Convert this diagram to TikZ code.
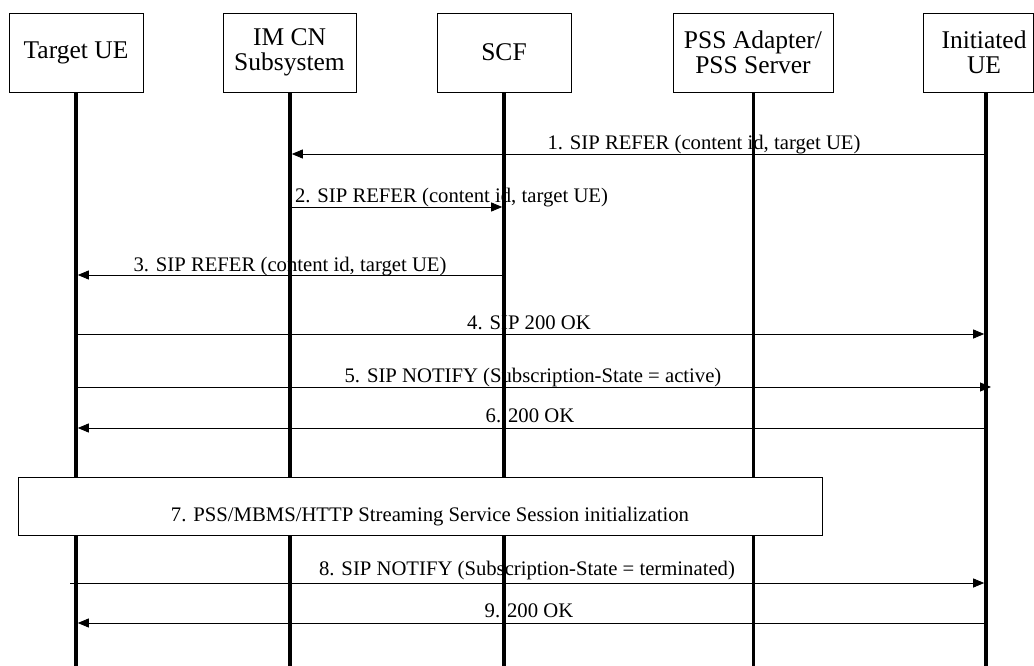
\documentclass[tikz,border=0pt]{standalone}
\usepackage{fontspec}
\setmainfont{Liberation Serif}
\usetikzlibrary{arrows.meta}
\begin{document}
\begin{tikzpicture}[x=1pt,y=-1pt,
  head/.style={draw, line width=0.9pt, fill=white, inner sep=0pt, align=center,
    minimum height=79pt, font=\fontsize{25.5}{25}\selectfont},
  headtxt/.style={inner sep=0pt, align=center, font=\fontsize{25.5}{25}\selectfont},
  life/.style={line width=3.6pt},
  msg/.style={line width=0.9pt, shorten >=1.8pt, -{Triangle[length=11pt,width=9pt]}},
  msgfree/.style={line width=0.9pt, -{Triangle[length=11pt,width=9pt]}},
  lbl/.style={anchor=base, inner sep=0pt, font=\fontsize{20.7}{24}\selectfont}]
\useasboundingbox (0,0) rectangle (1034,666);

% lifeline tops
\coordinate (L1) at (76,92);
\coordinate (L2) at (290,92);
\coordinate (L3) at (504,92);
\coordinate (L4) at (753.5,92);
\coordinate (L5) at (986,92);
\coordinate (B) at (0,666);
\coordinate (s8) at (70,583);
\coordinate (e5) at (991,387);

% messages
\draw[msg] (L5 |- 0,154) -- (L2 |- 0,154);
\node[lbl] (t1) at (704,150) {1. SIP REFER (content id, target UE)};

\draw[msg] (L2 |- 0,207) -- (L3 |- 0,207);
\node[lbl] (t2) at (451.5,202) {2. SIP REFER (content id, target UE)};

\draw[msg] (L3 |- 0,275) -- (L1 |- 0,275);
\node[lbl] (t3) at (290,271) {3. SIP REFER (content id, target UE)};

\draw[msg] (L1 |- 0,334) -- (L5 |- 0,334);
\node[lbl] (t4) at (529,329) {4. SIP 200 OK};

\draw[msgfree] (L1 |- e5) -- (e5);
\node[lbl] (t5) at (533,382) {5. SIP NOTIFY (Subscription-State = active)};

\draw[msg] (L5 |- 0,428) -- (L1 |- 0,428);
\node[lbl] (t6) at (530,422) {6. 200 OK};

\draw[msg] (s8) -- (L5 |- s8);
\node[lbl] (t8) at (527,575) {8. SIP NOTIFY (Subscription-State = terminated)};

\draw[msg] (L5 |- 0,623) -- (L1 |- 0,623);
\node[lbl] (t9) at (529,617) {9. 200 OK};

% lifelines
\foreach \l in {L1,L2,L3,L4,L5}
  \draw[life] (\l) -- (\l |- B);

% step 7 box
\node[draw, line width=0.9pt, fill=white, minimum width=804pt, minimum height=58pt, inner sep=0pt] (box7) at (420,506) {};
\node[lbl] (t7) at (430,521) {7. PSS/MBMS/HTTP Streaming Service Session initialization};

% headers
\node[head, minimum width=134pt] (tue) at (76,52.5) {Target UE};
\node[head, minimum width=133pt] (imcn) at (289.5,52.5) {IM CN\\Subsystem};
\node[head, minimum width=134pt] (scf) at (504,52.5) {SCF};
\node[head, minimum width=160pt] (pss) at (753,52.5) {PSS Adapter/\\PSS Server};
\node[head, minimum width=110pt] (iue) at (978,52.5) {};
\node[headtxt] (iuet) at (984,52.5) {Initiated\\UE};
\end{tikzpicture}
\end{document}
